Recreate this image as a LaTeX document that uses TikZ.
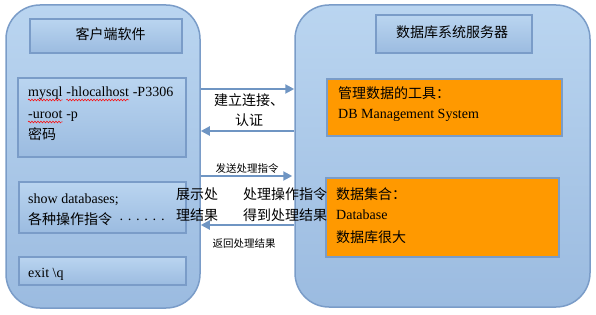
\documentclass[tikz,border=0pt]{standalone}
\usepackage{fontspec}
\setmainfont{Liberation Serif}
\newfontfamily\cjk{Noto Sans CJK SC}
\usetikzlibrary{arrows.meta,decorations.pathmorphing}
\definecolor{bfillA}{HTML}{BAD5F0}
\definecolor{bfillB}{HTML}{9BBBE0}
\definecolor{bline}{HTML}{7A9CC8}
\definecolor{arrc}{HTML}{6F95C3}
\definecolor{orng}{HTML}{FF9900}
\begin{document}
\begin{tikzpicture}[x=1pt,y=-1pt,
  bigbox/.style={draw=bline, line width=1.5pt, rounded corners=34pt, top color=bfillA, bottom color=bfillB, inner sep=0pt},
  innerbox/.style={draw=bline, line width=2.5pt, top color=bfillA, bottom color=bfillB, inner sep=0pt},
  orangebox/.style={draw=bline, line width=2.5pt, fill=orng, inner sep=0pt},
  txt/.style={font=\fontsize{14}{16}\selectfont, inner sep=0pt, anchor=base west},
  ctxt/.style={font=\fontsize{14}{16}\selectfont\cjk, inner sep=0pt, anchor=base},
  cl/.style={font=\fontsize{14}{16}\selectfont\cjk, inner sep=0pt, anchor=base west},
  small/.style={font=\fontsize{10.5}{12}\selectfont\cjk, inner sep=0pt, anchor=base},
  wave/.style={draw=red, line width=0.5pt, decorate, decoration={snake, amplitude=0.9pt, segment length=3pt}},
  arr/.style={draw=arrc, line width=2pt, -{Triangle[length=9pt,width=9pt]}}]
\useasboundingbox (0,0) rectangle (596,315);
% big containers
\node[bigbox, minimum width=194pt, minimum height=303pt] (L) at (103,156.5) {};
\node[bigbox, minimum width=295pt, minimum height=302pt] (R) at (442.5,156) {};
% left inner boxes
\node[innerbox, minimum width=152pt, minimum height=34pt] (LT) at (106,36) {};
\node[innerbox, minimum width=168pt, minimum height=79pt] (LM) at (102,117.5) {};
\node[innerbox, minimum width=167pt, minimum height=51pt] (LS) at (102.5,207.5) {};
\node[innerbox, minimum width=167pt, minimum height=28pt] (LE) at (102.5,271) {};
% right inner boxes
\node[innerbox, minimum width=156pt, minimum height=38pt] (RT) at (454,34) {};
\node[orangebox, minimum width=235pt, minimum height=57pt] (O1) at (444.5,107.5) {};
\node[orangebox, minimum width=233pt, minimum height=79pt] (O2) at (442.5,217.5) {};
% texts in boxes
\node[ctxt] (tLT) at (110.5,40) {客户端软件};
\node[ctxt] (tRT) at (452,37.5) {数据库系统服务器};
\node[txt] (w1) at (28,97) {mysql};
\node[txt] (w2) at ([xshift=3.5pt]w1.base east) {-};
\node[txt] (w3) at (w2.base east) {hlocalhost};
\node[txt] (w4) at ([xshift=3.5pt]w3.base east) {-P3306};
\node[txt] (w5) at (28,119) {-uroot};
\node[txt] (w6) at ([xshift=3.5pt]w5.base east) {-p};
\draw[wave] ([yshift=-3pt]w1.base west) -- ([yshift=-3pt]w1.base east);
\draw[wave] ([yshift=-3pt]w2.base west) -- ([yshift=-3pt]w3.base east);
\draw[wave] ([yshift=-3pt]w5.base west) -- ([yshift=-3pt]w5.base east);
\node[cl] (m3) at (28,140) {密码};
\node[txt] (s1) at (28,203) {show databases;};
\node[txt] (s2) at (28,224) {{\cjk 各种操作指令}\hspace{7pt}\textperiodcentered\kern3.6pt\textperiodcentered\kern3.6pt\textperiodcentered\kern3.6pt\textperiodcentered\kern3.6pt\textperiodcentered\kern3.6pt\textperiodcentered};
\node[txt] (e1) at (28,277) {exit \textbackslash q};
\node[cl] (o11) at (338,99) {管理数据的工具：};
\node[txt] (o12) at (338,119) {DB Management System};
\node[cl] (o21) at (336,199) {数据集合：};
\node[txt] (o22) at (336,219) {Database};
\node[cl] (o23) at (336,242) {数据库很大};
% connectors
\draw[arr] (L.east |- 0,89) -- (R.west |- 0,89);
\draw[arr] (R.west |- 0,131) -- (L.east |- 0,131);
\draw[arr] (L.east |- 0,176) -- ([xshift=-2pt]R.west |- 0,176);
\draw[arr] (R.west |- 0,225) -- (L.east |- 0,225);
% connector labels
\node[ctxt] (a1) at (249,106) {建立连接、};
\node[ctxt] (a2) at (249,126) {认证};
\node[small] (a3) at (247,172) {发送处理指令};
\node[small] (a4) at (244,247) {返回处理结果};
\node[cl] (b1) at (176,199) {展示处};
\node[cl] (b2) at (176,220) {理结果};
\node[cl] (c1) at (243,199) {处理操作指令};
\node[cl] (c2) at (243,220) {得到处理结果};
\end{tikzpicture}
\end{document}
